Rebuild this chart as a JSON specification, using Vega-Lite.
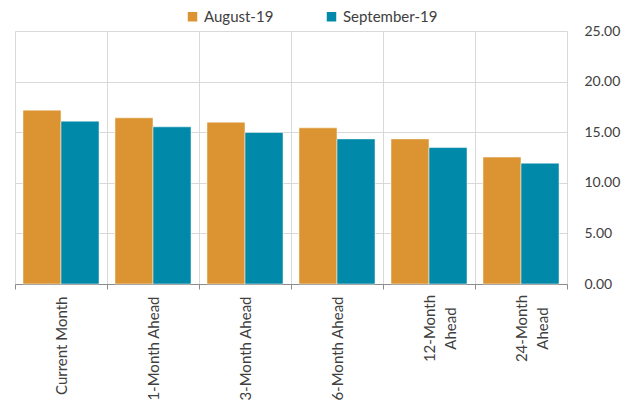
{
  "$schema": "https://vega.github.io/schema/vega-lite/v6.json",
  "autosize": {"type": "none"},
  "width": 552,
  "height": 253,
  "padding": {"left": 15, "top": 31, "right": 72, "bottom": 123},
  "background": "white",
  "config": {
    "view": {"stroke": null},
    "font": "Lato",
    "axis": {"labelFont": "Lato", "labelColor": "#404040", "labelFontSize": 14},
    "legend": {"labelFont": "Lato", "labelColor": "#404040", "labelFontSize": 15}
  },
  "data": {
    "values": [
      {"cat": "Current Month", "series": "August-19", "value": 17.18},
      {"cat": "Current Month", "series": "September-19", "value": 16.09},
      {"cat": "1-Month Ahead", "series": "August-19", "value": 16.42},
      {"cat": "1-Month Ahead", "series": "September-19", "value": 15.53},
      {"cat": "3-Month Ahead", "series": "August-19", "value": 15.99},
      {"cat": "3-Month Ahead", "series": "September-19", "value": 14.97},
      {"cat": "6-Month Ahead", "series": "August-19", "value": 15.43},
      {"cat": "6-Month Ahead", "series": "September-19", "value": 14.34},
      {"cat": "12-Month Ahead", "series": "August-19", "value": 14.34},
      {"cat": "12-Month Ahead", "series": "September-19", "value": 13.48},
      {"cat": "24-Month Ahead", "series": "August-19", "value": 12.54},
      {"cat": "24-Month Ahead", "series": "September-19", "value": 11.94}
    ]
  },
  "mark": {"type": "bar", "stroke": "white", "strokeWidth": 0.5},
  "encoding": {
    "x": {
      "field": "cat",
      "type": "nominal",
      "sort": null,
      "scale": {"paddingInner": 0, "paddingOuter": 0},
      "axis": {
        "title": null,
        "labelAngle": 270,
        "labelPadding": {"condition": {"test": "datum.value === '12-Month Ahead' || datum.value === '24-Month Ahead'", "value": 39}, "value": 7},
        "labelAlign": {"condition": {"test": "datum.value === '12-Month Ahead' || datum.value === '24-Month Ahead'", "value": "center"}, "value": "right"},
        "labelFontSize": 15,
        "labelLineHeight": 21,
        "labelExpr": "datum.label === '12-Month Ahead' ? ['12-Month', 'Ahead'] : datum.label === '24-Month Ahead' ? ['24-Month', 'Ahead'] : datum.label",
        "tickBand": "extent",
        "tickSize": 5,
        "tickColor": "#8c8c8c",
        "domainColor": "#8c8c8c",
        "grid": true,
        "gridColor": "#d9d9d9",
        "labelBound": false
      }
    },
    "xOffset": {
      "field": "series",
      "type": "nominal",
      "scale": {"paddingInner": 0, "paddingOuter": 0.21}
    },
    "y": {
      "field": "value",
      "type": "quantitative",
      "scale": {"domain": [0, 25], "nice": false},
      "axis": {
        "title": null,
        "orient": "right",
        "values": [0, 5, 10, 15, 20, 25],
        "format": ".2f",
        "domain": false,
        "ticks": false,
        "labelPadding": 17,
        "grid": true,
        "gridColor": "#d9d9d9"
      }
    },
    "color": {
      "field": "series",
      "type": "nominal",
      "scale": {"domain": ["August-19", "September-19"], "range": ["#DB9431", "#0089A9"]},
      "legend": {
        "title": null,
        "orient": "none",
        "legendX": 170,
        "legendY": -22,
        "direction": "horizontal",
        "columns": 2,
        "columnPadding": 50,
        "symbolType": "square",
        "symbolSize": 90,
        "symbolStrokeWidth": 0,
        "labelOffset": 4
      }
    }
  }
}
